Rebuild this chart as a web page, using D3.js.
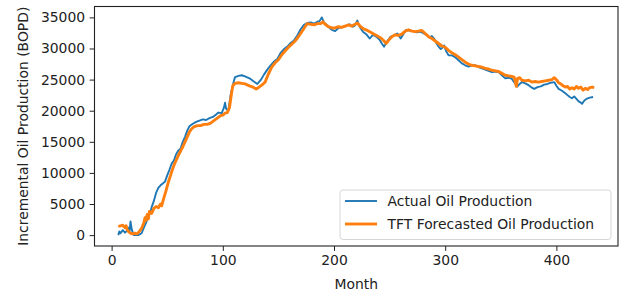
<!DOCTYPE html>
<html>
<head>
<meta charset="utf-8">
<script src="https://cdn.jsdelivr.net/npm/d3@7"></script>
<style>
    body { margin: 0; background: #fff; }
    text { font-family: "DejaVu Sans", sans-serif; fill: #222; }
</style>
</head>
<body>
<div id="chart"></div>
<script>
// actual oil production (month, BOPD)
const actualMonths = [6,7,8,10,12,14,15,16,17,18,19,20,24,27,29,31,33,35,36,38,40,42,44,46,48,50,52,54,56,58,60,62,64,66,68,70,73,76,79,82,85,88,91,94,96,99,101,102,103,105,107,108,110,111,114,117,120,124,127,131,134,137,140,143,146,149,152,155,158,161,164,167,170,173,176,179,182,185,187,189,191,194,196,198,201,204,208,211,214,217,219,221,223,226,229,232,235,238,241,243,245,248,251,254,257,260,263,265,268,271,274,277,280,283,286,288,290,292,294,296,298,299,301,303,306,309,312,315,318,321,324,327,330,333,336,339,342,345,348,351,354,357,360,362,365,367,369,372,375,378,380,383,386,389,392,395,398,400,402,405,408,410,412,414,416,418,420,422,423,425,427,430,433];
const actualValues = [0,600,300,800,400,700,1200,400,2200,1000,400,0,0,300,1200,2000,3000,3800,4500,5500,6800,7600,8000,8300,8600,9600,10500,11500,12000,13000,13600,13900,15000,15800,16800,17500,17900,18200,18400,18600,18500,18800,19000,19400,19700,19600,20500,21300,20300,20000,22500,23300,24800,25400,25600,25700,25500,25200,24800,24300,24900,25800,26600,27300,27900,28300,29300,29900,30300,30900,31300,32100,33100,33800,34100,34200,34000,34300,34400,35000,34200,33700,33300,33000,32800,33300,33500,33600,33900,33500,33700,34500,33500,32700,32300,31600,32200,31900,31400,30800,30300,31200,31900,32100,32400,31600,32500,33000,32900,32800,32600,32700,32500,32200,31800,32000,31600,30900,30300,29900,30200,30500,29500,28900,28900,28600,28100,27600,27300,27100,27300,27300,27000,26800,26600,26400,26200,26300,26200,25700,25200,25300,25100,24600,23900,24300,24600,24400,24100,23700,23500,23800,23900,24200,24300,24500,24600,24000,23500,23200,22800,22500,22200,22000,22300,21900,21500,21300,21100,21600,21900,22100,22200];

// TFT forecast (month, BOPD)
const forecastMonths = [6,8,10,12,13,14,15,17,19,21,23,25,27,29,30,31,32,33,34,36,38,40,42,44,45,47,49,51,53,54,56,58,60,62,64,66,68,70,72,74,77,80,83,86,89,92,95,98,100,102,104,106,108,109,111,114,117,120,124,127,130,132,135,138,141,144,147,150,153,156,159,162,165,168,171,174,176,179,182,185,188,190,192,195,198,201,204,207,210,213,216,219,221,224,227,230,233,236,239,242,245,247,249,252,255,258,261,264,267,270,273,276,279,282,285,288,291,294,297,300,303,306,309,312,315,318,321,324,327,330,333,336,339,342,345,348,351,354,357,360,362,364,365,367,369,372,375,378,381,384,387,390,393,396,398,400,402,404,406,408,410,412,414,416,418,420,422,424,426,428,430,432,434];
const forecastValues = [1400,1500,1600,1200,1500,900,600,300,200,300,200,600,1100,2000,2800,2400,3300,2600,3800,3500,4300,4600,4400,5000,4700,6000,7200,8500,9600,10200,11200,12000,12800,13500,14200,15000,15800,16600,17100,17400,17600,17600,17800,17800,18000,18400,18800,19200,19300,19600,19700,20500,23000,24000,24400,24500,24400,24300,24000,23800,23500,23700,24100,24600,25900,27000,27700,28200,29000,29600,30200,30700,31200,31900,32700,33500,34000,33900,33800,34000,34000,34300,33900,33500,33300,33300,33500,33400,33600,33800,33600,33900,34100,33500,33100,32900,32600,32300,32000,31700,31200,30800,31300,31900,32200,32100,32300,32800,33000,32800,32700,32800,32900,32400,31900,31600,31200,30800,30400,30200,29700,29300,29000,28600,28200,27800,27500,27300,27200,27100,27000,26800,26700,26500,26400,26300,26000,25700,25600,25500,25400,23900,25200,25300,24900,24800,24900,24600,24700,24600,24700,24800,24900,25000,25300,25000,24500,24300,24000,23800,23900,23500,23700,23500,23900,23600,23800,23300,23600,23400,23700,23800,23700];

const xTicks = [0, 100, 200, 300, 400];
const yTicks = [0, 5000, 10000, 15000, 20000, 25000, 30000, 35000];

const seriesNames = ["Actual Oil Production", "TFT Forecasted Oil Production"];
const colors = ["#1f77b4", "#ff7f0e"];

const actual = actualMonths.map((m, i) => ({month: m, value: actualValues[i]}));
const forecast = forecastMonths.map((m, i) => ({month: m, value: forecastValues[i]}));

const W = 625, H = 300;
const margin = {top: 6.5, right: 7, bottom: 54, left: 94.5};
const width = W - margin.left - margin.right;
const height = H - margin.top - margin.bottom;

const svg = d3.select("#chart").append("svg")
    .attr("width", W)
    .attr("height", H);

const g = svg.append("g")
    .attr("transform", `translate(${margin.left},${margin.top})`);

// matplotlib-like 5% padding around data
let allM = actualMonths.concat(forecastMonths);
let allV = actualValues.concat(forecastValues);
let [mMin, mMax] = d3.extent(allM);
let [vMin, vMax] = d3.extent(allV);
let mPad = (mMax - mMin) * 0.05, vPad = (vMax - vMin) * 0.05;

const x = d3.scaleLinear().domain([mMin - mPad, mMax + mPad]).range([0, width]);
const y = d3.scaleLinear().domain([vMin - vPad, vMax + vPad]).range([height, 0]);

const xAxis = g.append("g")
    .attr("transform", `translate(0,${height})`)
    .call(d3.axisBottom(x).tickValues(xTicks).tickSize(4.9).tickPadding(4).tickFormat(d3.format("d")));

const yAxis = g.append("g")
    .call(d3.axisLeft(y).tickValues(yTicks).tickSize(4.9).tickPadding(4.5).tickFormat(d3.format("d")));

[xAxis, yAxis].forEach(a => {
    a.select(".domain").remove();
    a.selectAll("line").attr("stroke", "#222").attr("stroke-width", 1);
    a.selectAll("text")
        .attr("font-family", "DejaVu Sans")
        .attr("font-size", 13.9)
        .attr("fill", "#222");
});

let line = d3.line()
    .x(d => x(d.month))
    .y(d => y(d.value));

g.append("path")
    .datum(actual)
    .attr("fill", "none")
    .attr("stroke", colors[0])
    .attr("stroke-width", 1.9)
    .attr("stroke-linejoin", "round")
    .attr("d", line);

g.append("path")
    .datum(forecast)
    .attr("fill", "none")
    .attr("stroke", colors[1])
    .attr("stroke-width", 2.9)
    .attr("stroke-linejoin", "round")
    .attr("d", line);

// frame
g.append("rect")
    .attr("width", width)
    .attr("height", height)
    .attr("fill", "none")
    .attr("stroke", "#222")
    .attr("stroke-width", 1.1);

// axis titles
svg.append("text")
    .attr("x", margin.left + width / 2)
    .attr("y", 288.5)
    .attr("text-anchor", "middle")
    .attr("font-size", 13.9)
    .text("Month");

svg.append("text")
    .attr("transform", `translate(28,${margin.top + height / 2}) rotate(-90)`)
    .attr("text-anchor", "middle")
    .attr("font-size", 13.9)
    .text("Incremental Oil Production (BOPD)");

// legend
let legend = svg.append("g")
    .attr("transform", `translate(340,190)`);

legend.append("rect")
    .attr("width", 271)
    .attr("height", 49.5)
    .attr("rx", 3)
    .attr("fill", "#fff")
    .attr("fill-opacity", 0.8)
    .attr("stroke", "#d6d6d6")
    .attr("stroke-width", 1);

seriesNames.forEach((name, i) => {
    let yPos = 11 + i * 23;
    legend.append("line")
        .attr("x1", 5)
        .attr("x2", 37)
        .attr("y1", yPos)
        .attr("y2", yPos)
        .attr("stroke", colors[i])
        .attr("stroke-width", i === 0 ? 1.9 : 2.9);
    legend.append("text")
        .attr("x", 47.5)
        .attr("y", yPos + 5)
        .attr("font-size", 13.9)
        .text(name);
});
</script>
</body>
</html>
